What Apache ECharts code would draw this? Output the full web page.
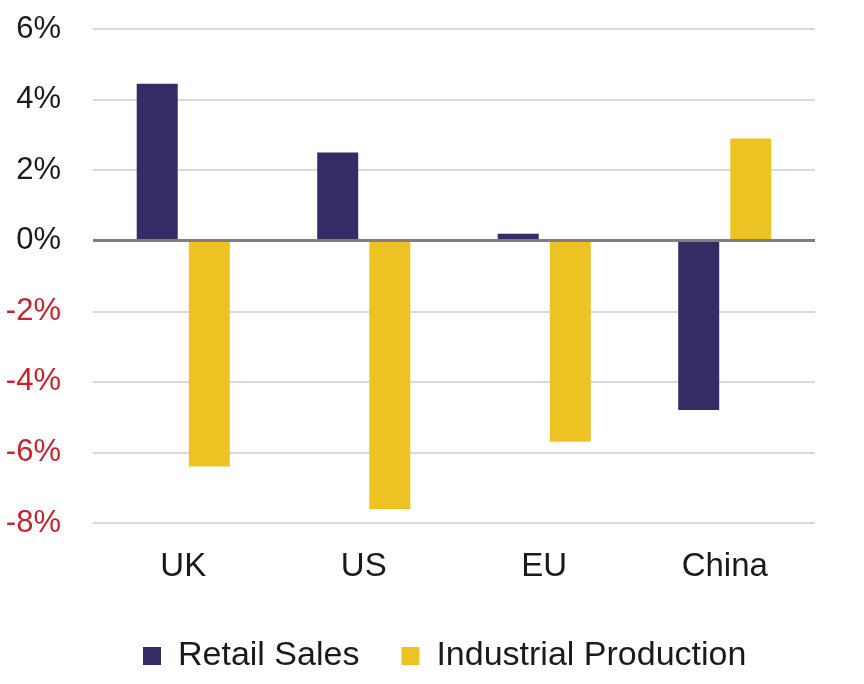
<!DOCTYPE html>
<html>
<head>
<meta charset="utf-8">
<script src="https://cdn.jsdelivr.net/npm/echarts@6/dist/echarts.min.js"></script>
<style>
  html, body { margin: 0; padding: 0; background: #fff; }
  #chart { width: 864px; height: 684px; }
</style>
</head>
<body>
<div id="chart"></div>
<script>
// 数据
const categories = ['UK', 'US', 'EU', 'China'];
const retailSales = [4.45, 2.5, 0.2, -4.8];
const industrialProduction = [-6.4, -7.6, -5.7, 2.9];
const yTicks = [-8, -6, -4, -2, 0, 2, 4, 6];

const purple = '#372B66';
const yellow = '#EDC323';

let chart = echarts.init(document.getElementById('chart'));

let option = {
    backgroundColor: '#fff',
    animation: false,
    textStyle: { fontFamily: 'Liberation Sans, Arial, sans-serif' },
    grid: { left: 93, right: 49, top: 29, bottom: 161 },
    legend: {
        bottom: 6,
        left: 138,
        itemWidth: 18,
        itemHeight: 18,
        itemGap: 42,
        icon: 'rect',
        data: ['Retail Sales', 'Industrial Production'],
        textStyle: { fontSize: 34, color: '#1a1a1a', padding: [0, 0, 0, 12] }
    },
    xAxis: {
        type: 'category',
        data: categories,
        axisLine: { show: false },
        axisTick: { show: false },
        axisLabel: { fontSize: 33, color: '#1a1a1a', margin: 27 }
    },
    yAxis: {
        type: 'value',
        min: yTicks[0],
        max: yTicks[yTicks.length - 1],
        interval: 2,
        axisLine: { show: false },
        axisTick: { show: false },
        axisLabel: {
            fontSize: 31,
            margin: 32,
            formatter: v => v + '%',
            // 负值红色
            color: v => (v < 0 ? '#C8232C' : '#1a1a1a')
        },
        splitLine: { lineStyle: { color: '#cccccc', width: 1.5 } }
    },
    series: [
        {
            name: 'Retail Sales',
            type: 'bar',
            data: retailSales,
            barWidth: 41,
            barGap: '27%',
            itemStyle: { color: purple },
            markLine: {
                silent: true,
                symbol: 'none',
                label: { show: false },
                lineStyle: { color: '#7f7f7f', width: 3, type: 'solid' },
                data: [{ yAxis: 0 }]
            }
        },
        {
            name: 'Industrial Production',
            type: 'bar',
            data: industrialProduction,
            barWidth: 41,
            barGap: '27%',
            itemStyle: { color: yellow }
        }
    ]
};

chart.setOption(option);
</script>
</body>
</html>
